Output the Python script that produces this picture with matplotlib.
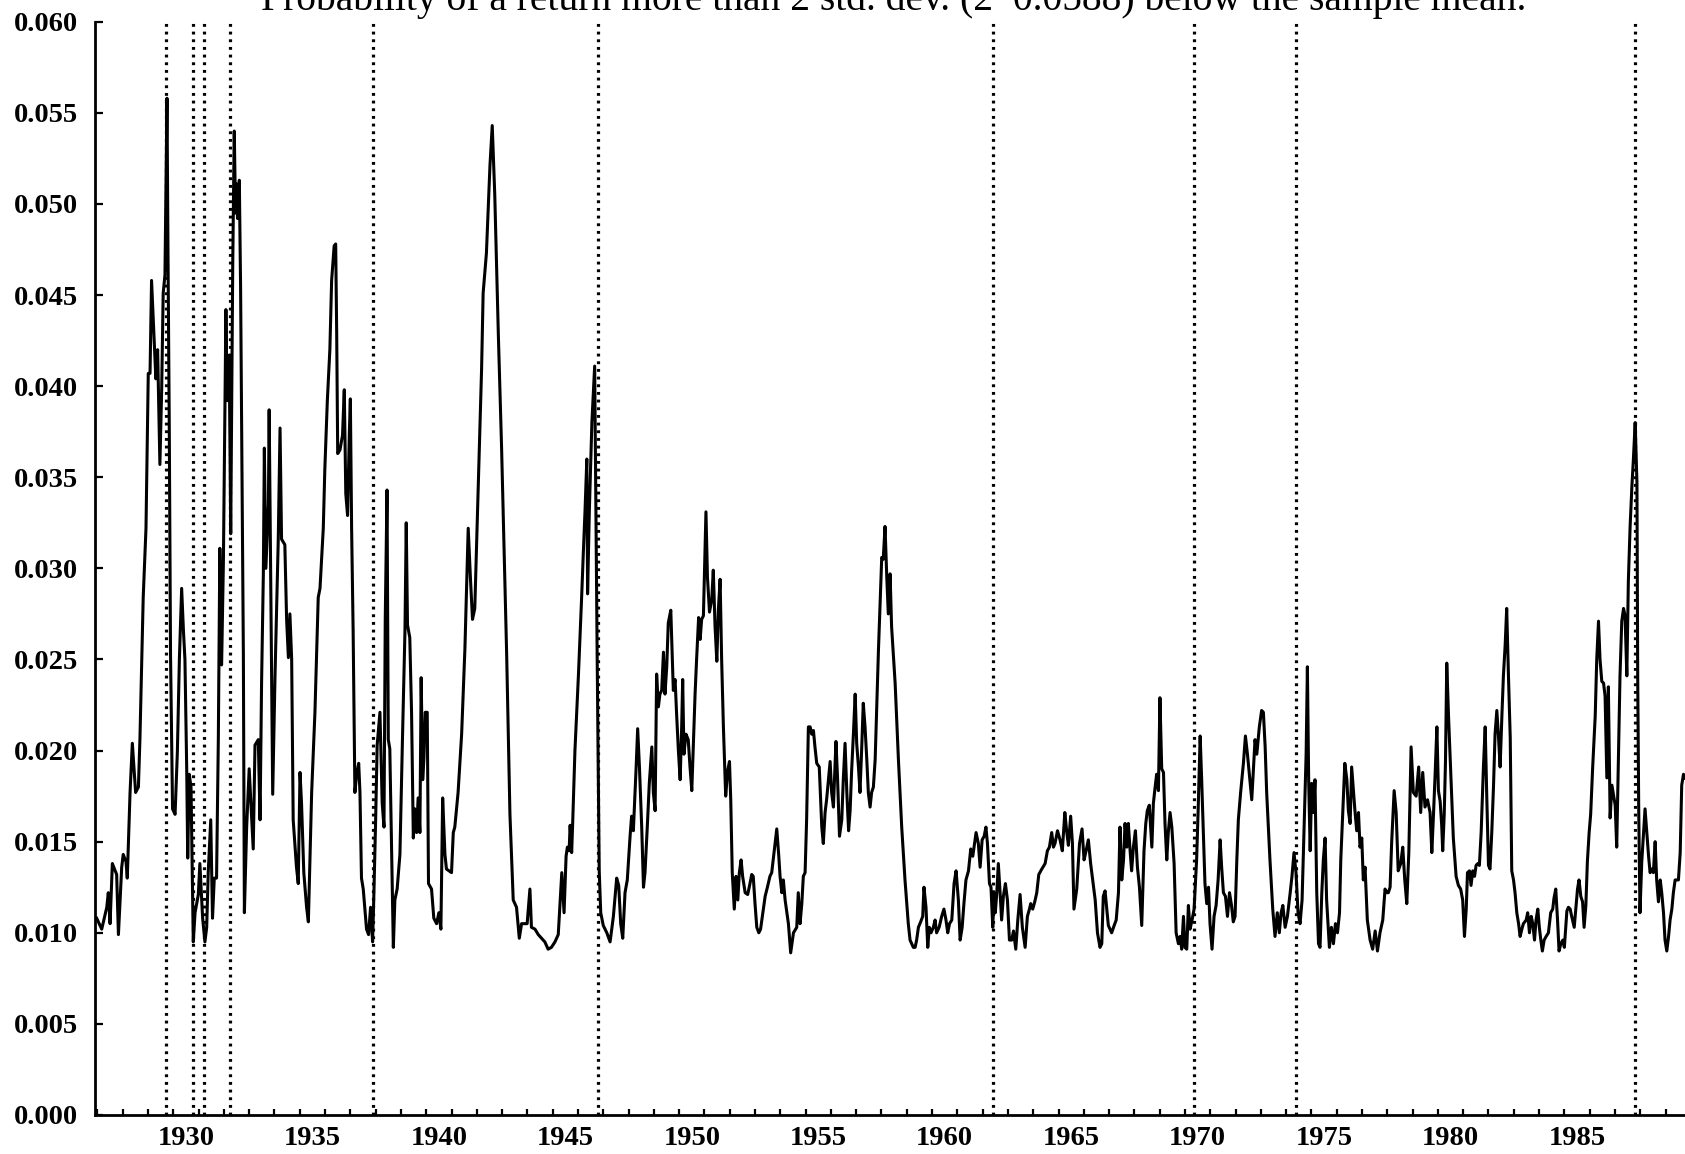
# %%

import numpy as np
import matplotlib.pyplot as plt

plt.rcParams['font.family'] = ['Liberation Serif', 'DejaVu Serif']

title = "Probability of a return more than 2 std. dev. (2*0.0588) below the sample mean."

# monthly-ish readings, split into four stretches
yr_a = [1926.97, 1927.17, 1927.37, 1927.43, 1927.50, 1927.59, 1927.76, 1927.83, 1927.96, 1928.02,
        1928.13, 1928.18, 1928.29, 1928.38, 1928.51, 1928.62, 1928.68, 1928.81, 1928.92, 1929.01,
        1929.08, 1929.14, 1929.21, 1929.31, 1929.38, 1929.47, 1929.54, 1929.60, 1929.67, 1929.75,
        1929.79, 1929.84, 1929.89, 1929.97, 1930.07, 1930.16, 1930.24, 1930.33, 1930.40, 1930.46,
        1930.53, 1930.57, 1930.63, 1930.70, 1930.75, 1930.79, 1930.86, 1930.99, 1931.05, 1931.16,
        1931.25, 1931.32, 1931.38, 1931.48, 1931.55, 1931.62, 1931.71, 1931.78, 1931.84, 1931.91,
        1931.98, 1932.08, 1932.13, 1932.21, 1932.27, 1932.35, 1932.41, 1932.46, 1932.50, 1932.54,
        1932.61, 1932.66, 1932.77, 1932.81, 1932.90, 1933.00, 1933.10, 1933.16, 1933.23, 1933.36,
        1933.43, 1933.49, 1933.56, 1933.60, 1933.66, 1933.76, 1933.79, 1933.86, 1933.93, 1934.02,
        1934.15, 1934.22, 1934.28, 1934.41, 1934.48, 1934.55, 1934.61, 1934.68, 1934.74, 1934.87,
        1934.94, 1935.01, 1935.07, 1935.16, 1935.27, 1935.34, 1935.47, 1935.60, 1935.73, 1935.80,
        1935.93, 1935.99, 1936.09, 1936.19, 1936.26, 1936.36, 1936.42, 1936.46, 1936.50, 1936.59,
        1936.69, 1936.76, 1936.82, 1936.89, 1936.96, 1937.00, 1937.05, 1937.11, 1937.18, 1937.25,
        1937.33, 1937.38, 1937.44, 1937.51, 1937.64, 1937.72, 1937.80, 1937.88, 1937.93, 1938.00,
        1938.06, 1938.17, 1938.26, 1938.33, 1938.38, 1938.45, 1938.50, 1938.56, 1938.63, 1938.70,
        1938.76, 1938.85, 1938.96, 1939.06, 1939.16, 1939.21, 1939.26, 1939.35, 1939.42, 1939.49,
        1939.55, 1939.62, 1939.68, 1939.75, 1939.80, 1939.86, 1939.91, 1939.96, 1940.04, 1940.09,
        1940.21, 1940.30, 1940.41, 1940.50, 1940.58, 1940.65, 1940.74, 1940.80, 1941.00, 1941.07,
        1941.13, 1941.26, 1941.40, 1941.53, 1941.66, 1941.75, 1941.83, 1941.92, 1942.06, 1942.19,
        1942.25, 1942.38, 1942.52, 1942.61, 1942.71, 1942.85, 1942.98, 1943.18, 1943.31, 1943.44,
        1943.57, 1943.68, 1943.77, 1943.86, 1943.99, 1944.10, 1944.16, 1944.30, 1944.43, 1944.56,
        1944.69, 1944.82, 1944.95, 1945.09, 1945.22]
p_a = [0.0108, 0.0102, 0.0114, 0.0122, 0.0105, 0.0138, 0.0132, 0.0099, 0.0136, 0.0143,
       0.0139, 0.0130, 0.0177, 0.0204, 0.0177, 0.0180, 0.0206, 0.0284, 0.0322, 0.0407,
       0.0407, 0.0458, 0.0436, 0.0404, 0.0420, 0.0357, 0.0398, 0.0451, 0.0461, 0.0558,
       0.0473, 0.0379, 0.0253, 0.0168, 0.0165, 0.0199, 0.0250, 0.0289, 0.0266, 0.0250,
       0.0190, 0.0141, 0.0187, 0.0180, 0.0133, 0.0095, 0.0111, 0.0121, 0.0138, 0.0108,
       0.0095, 0.0103, 0.0133, 0.0162, 0.0108, 0.0130, 0.0130, 0.0206, 0.0311, 0.0247,
       0.0303, 0.0442, 0.0392, 0.0417, 0.0319, 0.0467, 0.0540, 0.0495, 0.0511, 0.0492,
       0.0513, 0.0455, 0.0253, 0.0111, 0.0158, 0.0190, 0.0162, 0.0146, 0.0203, 0.0206,
       0.0162, 0.0237, 0.0297, 0.0366, 0.0300, 0.0335, 0.0387, 0.0284, 0.0176, 0.0240,
       0.0316, 0.0377, 0.0316, 0.0313, 0.0272, 0.0251, 0.0275, 0.0250, 0.0162, 0.0136,
       0.0127, 0.0188, 0.0171, 0.0133, 0.0114, 0.0106, 0.0177, 0.0221, 0.0284, 0.0289,
       0.0322, 0.0354, 0.0392, 0.0420, 0.0458, 0.0477, 0.0478, 0.0429, 0.0363, 0.0365,
       0.0373, 0.0398, 0.0341, 0.0329, 0.0374, 0.0393, 0.0322, 0.0266, 0.0177, 0.0187,
       0.0193, 0.0177, 0.0130, 0.0124, 0.0102, 0.0099, 0.0114, 0.0095, 0.0121, 0.0162,
       0.0203, 0.0221, 0.0171, 0.0158, 0.0272, 0.0343, 0.0206, 0.0201, 0.0146, 0.0092,
       0.0118, 0.0124, 0.0143, 0.0206, 0.0266, 0.0325, 0.0269, 0.0262, 0.0221, 0.0152,
       0.0168, 0.0155, 0.0174, 0.0155, 0.0240, 0.0184, 0.0196, 0.0221, 0.0221, 0.0127,
       0.0124, 0.0108, 0.0105, 0.0111, 0.0102, 0.0174, 0.0143, 0.0135, 0.0133, 0.0155,
       0.0158, 0.0177, 0.0209, 0.0256, 0.0322, 0.0294, 0.0272, 0.0278, 0.0347, 0.0410,
       0.0451, 0.0473, 0.0521, 0.0543, 0.0505, 0.0429, 0.0366, 0.0253, 0.0165, 0.0118,
       0.0114, 0.0097, 0.0105, 0.0105, 0.0105, 0.0124, 0.0103, 0.0102, 0.0099, 0.0097,
       0.0095, 0.0091, 0.0092, 0.0095, 0.0099]

yr_b = [1945.29, 1945.36, 1945.45, 1945.53, 1945.58, 1945.65, 1945.69, 1945.75, 1945.79, 1945.88,
        1946.02, 1946.15, 1946.21, 1946.28, 1946.35, 1946.38, 1946.45, 1946.55, 1946.66, 1946.76,
        1946.84, 1946.90, 1947.00, 1947.14, 1947.27, 1947.40, 1947.53, 1947.61, 1947.69, 1947.77,
        1947.86, 1947.95, 1948.06, 1948.12, 1948.19, 1948.30, 1948.36, 1948.43, 1948.52, 1948.59,
        1948.65, 1948.74, 1948.82, 1948.92, 1948.98, 1949.05, 1949.11, 1949.18, 1949.24, 1949.31,
        1949.38, 1949.44, 1949.51, 1949.57, 1949.67, 1949.77, 1949.84, 1949.90, 1949.97, 1950.04,
        1950.10, 1950.14, 1950.19, 1950.27, 1950.36, 1950.43, 1950.50, 1950.56, 1950.63, 1950.69,
        1950.77, 1950.83, 1950.89, 1950.96, 1951.06, 1951.12, 1951.20, 1951.29, 1951.35, 1951.42,
        1951.49, 1951.55, 1951.62, 1951.68, 1951.75, 1951.84, 1951.92, 1951.99, 1952.04, 1952.10,
        1952.18, 1952.25, 1952.32, 1952.38, 1952.45, 1952.51, 1952.61, 1952.71, 1952.80, 1952.87,
        1952.93, 1953.00, 1953.07, 1953.15, 1953.22, 1953.33, 1953.40, 1953.49, 1953.59, 1953.66,
        1953.75, 1953.86, 1953.94, 1953.99, 1954.06, 1954.12, 1954.19, 1954.32, 1954.41, 1954.52,
        1954.65, 1954.71, 1954.78, 1954.85, 1954.91, 1954.98, 1955.04, 1955.11, 1955.18, 1955.24,
        1955.31, 1955.37, 1955.44, 1955.54, 1955.64, 1955.70, 1955.77, 1955.83, 1955.97, 1956.03,
        1956.10, 1956.20, 1956.26, 1956.34, 1956.43, 1956.49, 1956.56, 1956.63, 1956.70, 1956.76,
        1956.82, 1956.89, 1956.96, 1957.02, 1957.09, 1957.15, 1957.22, 1957.28, 1957.35, 1957.42,
        1957.48, 1957.55, 1957.61, 1957.68, 1957.75, 1957.88, 1957.94, 1958.01, 1958.07, 1958.14,
        1958.21, 1958.27, 1958.34, 1958.40, 1958.54, 1958.67, 1958.80, 1958.93, 1959.06, 1959.13,
        1959.26, 1959.33, 1959.39, 1959.46, 1959.55, 1959.63, 1959.68, 1959.76, 1959.83, 1959.89,
        1959.96, 1960.05, 1960.12, 1960.18, 1960.28, 1960.38, 1960.47, 1960.55, 1960.62, 1960.69,
        1960.78, 1960.87, 1960.95, 1961.04, 1961.11, 1961.19, 1961.26, 1961.34, 1961.44, 1961.53,
        1961.61, 1961.66, 1961.74, 1961.83, 1961.90, 1961.98, 1962.06, 1962.13, 1962.19, 1962.27,
        1962.33, 1962.40, 1962.45, 1962.50, 1962.56, 1962.62, 1962.69, 1962.75, 1962.82, 1962.90,
        1962.98, 1963.06]
p_b = [0.0116, 0.0133, 0.0111, 0.0142, 0.0147, 0.0145, 0.0159, 0.0144, 0.0160, 0.0200,
       0.0242, 0.0286, 0.0308, 0.0332, 0.0360, 0.0286, 0.0332, 0.0380, 0.0411, 0.0250,
       0.0134, 0.0111, 0.0104, 0.0100, 0.0095, 0.0109, 0.0130, 0.0126, 0.0105, 0.0097,
       0.0122, 0.0129, 0.0153, 0.0164, 0.0156, 0.0191, 0.0212, 0.0191, 0.0158, 0.0125,
       0.0133, 0.0158, 0.0182, 0.0202, 0.0177, 0.0167, 0.0242, 0.0224, 0.0231, 0.0233,
       0.0254, 0.0231, 0.0246, 0.0270, 0.0277, 0.0233, 0.0239, 0.0220, 0.0200, 0.0184,
       0.0213, 0.0239, 0.0198, 0.0209, 0.0206, 0.0191, 0.0178, 0.0202, 0.0231, 0.0250,
       0.0273, 0.0261, 0.0272, 0.0274, 0.0331, 0.0295, 0.0276, 0.0283, 0.0299, 0.0268,
       0.0249, 0.0277, 0.0294, 0.0250, 0.0213, 0.0175, 0.0189, 0.0194, 0.0173, 0.0133,
       0.0113, 0.0131, 0.0118, 0.0133, 0.0140, 0.0131, 0.0122, 0.0121, 0.0127, 0.0132,
       0.0131, 0.0116, 0.0103, 0.0100, 0.0102, 0.0113, 0.0120, 0.0125, 0.0131, 0.0133,
       0.0144, 0.0157, 0.0142, 0.0131, 0.0122, 0.0129, 0.0118, 0.0105, 0.0089, 0.0100,
       0.0103, 0.0122, 0.0105, 0.0116, 0.0131, 0.0133, 0.0162, 0.0213, 0.0213, 0.0209,
       0.0211, 0.0202, 0.0193, 0.0191, 0.0158, 0.0149, 0.0166, 0.0173, 0.0194, 0.0177,
       0.0169, 0.0205, 0.0186, 0.0153, 0.0162, 0.0184, 0.0204, 0.0177, 0.0156, 0.0167,
       0.0189, 0.0209, 0.0231, 0.0204, 0.0191, 0.0177, 0.0202, 0.0226, 0.0213, 0.0195,
       0.0177, 0.0169, 0.0177, 0.0180, 0.0195, 0.0255, 0.0279, 0.0306, 0.0305, 0.0323,
       0.0295, 0.0275, 0.0297, 0.0268, 0.0237, 0.0195, 0.0158, 0.0129, 0.0105, 0.0096,
       0.0092, 0.0092, 0.0096, 0.0103, 0.0106, 0.0109, 0.0125, 0.0114, 0.0092, 0.0103,
       0.0100, 0.0103, 0.0107, 0.0100, 0.0103, 0.0109, 0.0113, 0.0107, 0.0100, 0.0105,
       0.0107, 0.0127, 0.0134, 0.0118, 0.0096, 0.0103, 0.0116, 0.0129, 0.0134, 0.0146,
       0.0142, 0.0147, 0.0155, 0.0149, 0.0136, 0.0151, 0.0153, 0.0158, 0.0149, 0.0127,
       0.0125, 0.0103, 0.0122, 0.0111, 0.0122, 0.0138, 0.0122, 0.0107, 0.0120, 0.0127,
       0.0118, 0.0096]

yr_c = [1963.15, 1963.22, 1963.31, 1963.39, 1963.48, 1963.57, 1963.68, 1963.77, 1963.85, 1963.90,
        1963.98, 1964.06, 1964.14, 1964.22, 1964.34, 1964.47, 1964.56, 1964.64, 1964.73, 1964.80,
        1964.86, 1964.96, 1965.06, 1965.15, 1965.25, 1965.32, 1965.39, 1965.48, 1965.55, 1965.61,
        1965.72, 1965.83, 1965.93, 1966.01, 1966.09, 1966.18, 1966.27, 1966.35, 1966.45, 1966.54,
        1966.64, 1966.71, 1966.77, 1966.84, 1966.91, 1966.97, 1967.10, 1967.20, 1967.28, 1967.37,
        1967.43, 1967.50, 1967.57, 1967.63, 1967.70, 1967.76, 1967.83, 1967.89, 1967.96, 1968.04,
        1968.12, 1968.20, 1968.29, 1968.38, 1968.45, 1968.51, 1968.59, 1968.69, 1968.75, 1968.82,
        1968.88, 1968.95, 1969.01, 1969.08, 1969.15, 1969.21, 1969.28, 1969.34, 1969.41, 1969.48,
        1969.57, 1969.65, 1969.74, 1969.81, 1969.87, 1969.94, 1970.00, 1970.07, 1970.135, 1970.20,
        1970.28, 1970.36, 1970.46, 1970.52, 1970.60, 1970.66, 1970.73, 1970.79, 1970.86, 1970.93,
        1970.99, 1971.07, 1971.15, 1971.23, 1971.31, 1971.39, 1971.45, 1971.52, 1971.60, 1971.68,
        1971.76, 1971.84, 1971.91, 1971.98, 1972.05, 1972.11, 1972.20, 1972.31, 1972.39, 1972.47,
        1972.55, 1972.64, 1972.71, 1972.77, 1972.84, 1972.94, 1973.03, 1973.10, 1973.17, 1973.23,
        1973.36, 1973.47, 1973.56, 1973.65, 1973.73, 1973.80, 1973.87, 1973.96, 1974.05, 1974.16,
        1974.23, 1974.31, 1974.39, 1974.47, 1974.55, 1974.63, 1974.71, 1974.79, 1974.84, 1974.89,
        1974.95, 1975.01, 1975.08, 1975.14, 1975.21, 1975.28, 1975.34, 1975.41, 1975.47, 1975.54,
        1975.60, 1975.71, 1975.79, 1975.87, 1975.95, 1976.03, 1976.11, 1976.16, 1976.24, 1976.32,
        1976.40, 1976.46, 1976.53, 1976.59, 1976.66, 1976.72, 1976.79, 1976.86, 1976.92, 1976.99,
        1977.05, 1977.12, 1977.21, 1977.32, 1977.42, 1977.52, 1977.61, 1977.71, 1977.82, 1977.91,
        1977.98, 1978.04, 1978.11, 1978.17, 1978.27, 1978.35, 1978.43, 1978.53, 1978.61, 1978.69,
        1978.77, 1978.85, 1978.94, 1979.03, 1979.14, 1979.24, 1979.32, 1979.40, 1979.49, 1979.59,
        1979.69]
p_c = [0.0096, 0.0101, 0.0091, 0.0107, 0.0121, 0.0103, 0.0092, 0.0109, 0.0113, 0.0116,
       0.0113, 0.0117, 0.0122, 0.0132, 0.0135, 0.0138, 0.0145, 0.0147, 0.0155, 0.0147,
       0.0149, 0.0156, 0.0151, 0.0145, 0.0166, 0.0156, 0.0148, 0.0164, 0.0149, 0.0113,
       0.0124, 0.0149, 0.0157, 0.0140, 0.0145, 0.0151, 0.0138, 0.0129, 0.0118, 0.0100,
       0.0092, 0.0094, 0.0120, 0.0123, 0.0113, 0.0104, 0.0100, 0.0104, 0.0107, 0.0122,
       0.0158, 0.0129, 0.0140, 0.0160, 0.0147, 0.0160, 0.0145, 0.0134, 0.0147, 0.0156,
       0.0136, 0.0125, 0.0104, 0.0145, 0.0160, 0.0167, 0.0170, 0.0147, 0.0171, 0.0180,
       0.0187, 0.0178, 0.0229, 0.0190, 0.0188, 0.0160, 0.0140, 0.0155, 0.0166, 0.0158,
       0.0138, 0.0100, 0.0094, 0.0098, 0.0091, 0.0109, 0.0092, 0.0091, 0.0115, 0.0102,
       0.0107, 0.0113, 0.0140, 0.0167, 0.0208, 0.0184, 0.0153, 0.0127, 0.0116, 0.0125,
       0.0105, 0.0091, 0.0109, 0.0115, 0.0129, 0.0151, 0.0136, 0.0122, 0.0120, 0.0109,
       0.0122, 0.0115, 0.0106, 0.0109, 0.0140, 0.0162, 0.0177, 0.0193, 0.0208, 0.0198,
       0.0186, 0.0173, 0.0191, 0.0206, 0.0198, 0.0213, 0.0222, 0.0221, 0.0202, 0.0177,
       0.0140, 0.0113, 0.0098, 0.0111, 0.0100, 0.0111, 0.0115, 0.0103, 0.0109, 0.0122,
       0.0131, 0.0144, 0.0133, 0.0111, 0.0105, 0.0118, 0.0158, 0.0198, 0.0246, 0.0184,
       0.0145, 0.0182, 0.0166, 0.0184, 0.0122, 0.0094, 0.0092, 0.0122, 0.0140, 0.0152,
       0.0118, 0.0092, 0.0103, 0.0094, 0.0105, 0.0100, 0.0111, 0.0140, 0.0167, 0.0193,
       0.0184, 0.0167, 0.0160, 0.0191, 0.0178, 0.0167, 0.0156, 0.0166, 0.0147, 0.0152,
       0.0129, 0.0136, 0.0107, 0.0096, 0.0091, 0.0101, 0.0090, 0.0100, 0.0107, 0.0124,
       0.0122, 0.0122, 0.0125, 0.0149, 0.0178, 0.0166, 0.0134, 0.0138, 0.0147, 0.0129,
       0.0116, 0.0144, 0.0202, 0.0177, 0.0175, 0.0191, 0.0166, 0.0188, 0.0169, 0.0173,
       0.0166]

yr_d = [1979.76, 1979.82, 1979.89, 1979.96, 1980.02, 1980.09, 1980.15, 1980.19, 1980.25, 1980.30,
        1980.35, 1980.42, 1980.48, 1980.55, 1980.61, 1980.72, 1980.81, 1980.90, 1980.98, 1981.05,
        1981.12, 1981.17, 1981.25, 1981.31, 1981.38, 1981.45, 1981.51, 1981.58, 1981.64, 1981.71,
        1981.80, 1981.87, 1981.93, 1982.00, 1982.06, 1982.13, 1982.20, 1982.26, 1982.33, 1982.39,
        1982.46, 1982.53, 1982.59, 1982.66, 1982.72, 1982.79, 1982.86, 1982.92, 1982.99, 1983.05,
        1983.12, 1983.19, 1983.25, 1983.32, 1983.38, 1983.49, 1983.55, 1983.62, 1983.69, 1983.75,
        1983.82, 1983.88, 1983.95, 1984.01, 1984.07, 1984.13, 1984.20, 1984.28, 1984.37, 1984.46,
        1984.54, 1984.59, 1984.66, 1984.73, 1984.79, 1984.86, 1984.94, 1985.00, 1985.10, 1985.16,
        1985.23, 1985.29, 1985.39, 1985.45, 1985.52, 1985.58, 1985.65, 1985.72, 1985.78, 1985.85,
        1985.91, 1985.98, 1986.04, 1986.12, 1986.22, 1986.28, 1986.35, 1986.41, 1986.48, 1986.55,
        1986.61, 1986.68, 1986.74, 1986.81, 1986.88, 1986.94, 1987.01, 1987.07, 1987.14, 1987.20,
        1987.27, 1987.34, 1987.40, 1987.47, 1987.53, 1987.60, 1987.67, 1987.73, 1987.80, 1987.87,
        1987.90, 1987.94, 1987.99, 1988.06, 1988.13, 1988.19, 1988.26, 1988.33, 1988.39, 1988.46,
        1988.52, 1988.59, 1988.65, 1988.72, 1988.79, 1988.85, 1988.92, 1988.98, 1989.05, 1989.12,
        1989.18, 1989.25, 1989.31, 1989.38, 1989.45, 1989.51, 1989.58, 1989.64, 1989.71, 1989.77]
p_d = [0.0144, 0.0163, 0.0187, 0.0213, 0.0178, 0.0172, 0.0159, 0.0145, 0.0165, 0.0194,
       0.0248, 0.0219, 0.0198, 0.0174, 0.0152, 0.0131, 0.0126, 0.0124, 0.0118, 0.0098,
       0.0113, 0.0133, 0.0134, 0.0126, 0.0134, 0.0131, 0.0137, 0.0138, 0.0137, 0.0155,
       0.0191, 0.0213, 0.0176, 0.0137, 0.0135, 0.0155, 0.0181, 0.0209, 0.0222, 0.0209,
       0.0191, 0.0219, 0.0241, 0.0258, 0.0278, 0.0241, 0.0207, 0.0134, 0.0129, 0.0122,
       0.0111, 0.0105, 0.0098, 0.0102, 0.0105, 0.0107, 0.0111, 0.0100, 0.0109, 0.0105,
       0.0096, 0.0107, 0.0113, 0.0103, 0.0096, 0.0090, 0.0096, 0.0098, 0.0100, 0.0111,
       0.0113, 0.0119, 0.0124, 0.0107, 0.0090, 0.0094, 0.0096, 0.0092, 0.0112, 0.0114,
       0.0113, 0.0109, 0.0103, 0.0113, 0.0124, 0.0129, 0.0120, 0.0117, 0.0103, 0.0115,
       0.0139, 0.0155, 0.0165, 0.0191, 0.0219, 0.0250, 0.0271, 0.0250, 0.0238, 0.0237,
       0.0230, 0.0185, 0.0235, 0.0163, 0.0181, 0.0176, 0.0170, 0.0147, 0.0198, 0.0241,
       0.0271, 0.0278, 0.0274, 0.0241, 0.0293, 0.0323, 0.0345, 0.0360, 0.0380, 0.0347,
       0.0241, 0.0168, 0.0111, 0.0139, 0.0155, 0.0168, 0.0155, 0.0142, 0.0133, 0.0135,
       0.0133, 0.0150, 0.0129, 0.0117, 0.0129, 0.0122, 0.0111, 0.0096, 0.0090, 0.0098,
       0.0107, 0.0113, 0.0122, 0.0129, 0.0129, 0.0129, 0.0144, 0.0181, 0.0187, 0.0185]

# dotted vertical markers
event_dates = [1929.71, 1930.79, 1931.23, 1932.24, 1937.88, 1946.81, 1962.40, 1970.36, 1974.39, 1987.80]

year_ticks = list(range(1927, 1990))
year_labels = [str(y) for y in range(1930, 1990, 5)]

# %%

years = np.concatenate([yr_a, yr_b, yr_c, yr_d])
prob = np.concatenate([p_a, p_b, p_c, p_d])

fig = plt.figure(figsize=(16.85, 11.54), dpi=100)
ax = fig.add_axes([95 / 1685, 39 / 1154, 1 - 95 / 1685, (1115 - 21.7) / 1154])

for d in event_dates:
    ax.axvline(d, color='black', lw=2.3, linestyle=(0, (0.9, 1.5)))

ax.plot(years, prob, color='black', lw=2.2)

ax.set_xlim(1926.904, 1989.77)
ax.set_ylim(0, 0.06)

ax.spines['top'].set_visible(False)
ax.spines['right'].set_visible(False)
ax.spines['left'].set_linewidth(2.0)
ax.spines['bottom'].set_linewidth(2.0)

ax.set_yticks(np.arange(0, 0.0601, 0.005))
ax.set_yticklabels([f"{v:.3f}" for v in np.arange(0, 0.0601, 0.005)],
                   fontsize=20.5, fontweight='bold')
ax.tick_params(axis='y', direction='in', length=6, width=1.6, pad=12)

ax.set_xticks(year_ticks)
ax.set_xticklabels([])
ax.tick_params(axis='x', which='major', direction='in', length=4.5, width=1.6)
ax.set_xticks([int(s) + 0.5 for s in year_labels], minor=True)
ax.set_xticklabels(year_labels, minor=True, fontsize=20.5, fontweight='bold')
ax.tick_params(axis='x', which='minor', length=0, pad=8)

# title sits partly above the top edge, as in the source figure
fig.text(0.5306, 0.9913, title, ha='center', va='baseline', fontsize=28.5)

fig.savefig("out.png", dpi=100)
